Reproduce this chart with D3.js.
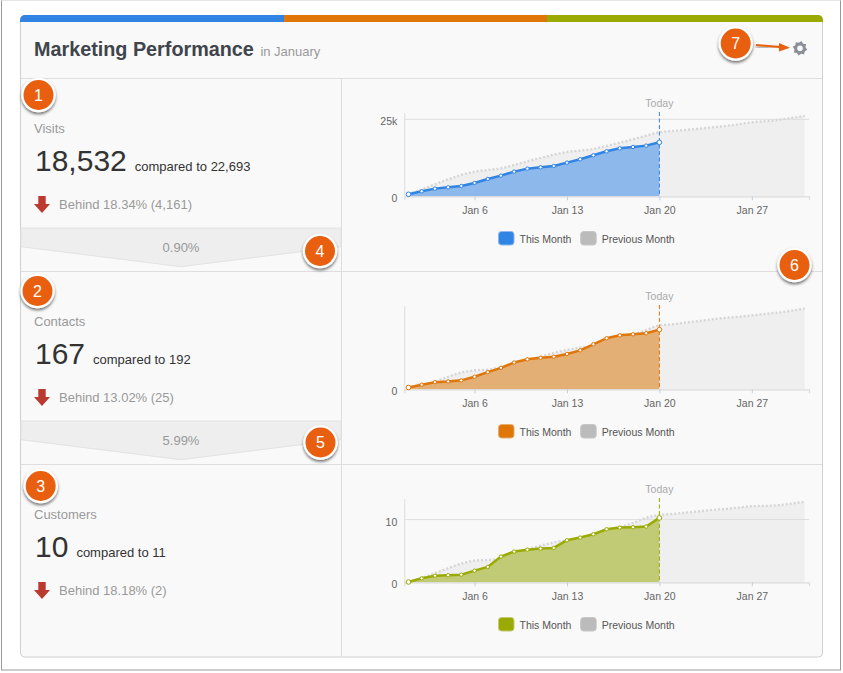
<!DOCTYPE html>
<html>
<head>
<meta charset="utf-8">
<script src="https://cdn.jsdelivr.net/npm/d3@7"></script>
<style>
    body { margin: 0; background: #fff; }
    svg { display: block; font-family: "Liberation Sans", Arial, sans-serif; }
</style>
</head>
<body>
<div id="chart"></div>
<script>
// values, one entry per day of the month
const visitsThis = [650, 1620, 2490, 2920, 3350, 4330, 5630, 6710, 8010, 8980, 9420, 9850, 10930, 12010, 13310, 14610, 15580, 16020, 16450, 17530];
const visitsPrev = [650, 2270, 3900, 5520, 6930, 8010, 8550, 9090, 10170, 11360, 12450, 13530, 14390, 14830, 15370, 16340, 17420, 18510, 19700, 20780, 21210, 21540, 21970, 22400, 22840, 23380, 24030, 24350, 24780, 25430, 26080];
const contactsThis = [5, 13, 20, 22, 25, 35, 48, 60, 75, 84, 88, 91, 99, 109, 126, 143, 151, 154, 157, 167];
const contactsPrev = [5, 12, 21, 35, 47, 53, 55, 61, 70, 81, 91, 102, 110, 117, 121, 132, 141, 152, 166, 179, 182, 187, 191, 196, 200, 203, 207, 211, 215, 220, 226];
const customersThis = [0.05, 0.64, 1.06, 1.12, 1.22, 1.86, 2.45, 4.1, 4.9, 5.2, 5.37, 5.48, 6.7, 7.13, 7.66, 8.46, 8.72, 8.78, 8.88, 10.27];
const customersPrev = [0.05, 0.69, 1.44, 2.23, 2.98, 3.46, 3.56, 3.78, 4.47, 5.21, 5.85, 6.33, 6.7, 6.81, 7.13, 8.03, 8.72, 9.47, 10.27, 10.74, 10.9, 11.12, 11.33, 11.54, 11.7, 11.91, 12.13, 12.18, 12.29, 12.55, 12.82];

const labels = ["Visits", "Contacts", "Customers"];
const totals = ["18,532", "167", "10"];
const compared = ["compared to 22,693", "compared to 192", "compared to 11"];
const behind = ["Behind 18.34% (4,161)", "Behind 13.02% (25)", "Behind 18.18% (2)"];
const funnel = ["0.90%", "5.99%"];
const dayTicks = [6, 13, 20, 27];
const today = 20;
const legendLabels = ["This Month", "Previous Month"];

const colors = ["#2f84e4", "#e07508", "#9aaa00"];
const fills = ["#8cb8ec", "#e4af75", "#c1cb75"];

const charts = [
    { current: visitsThis, previous: visitsPrev, top: 27143, ticks: [0, 25000], format: d => d ? d / 1000 + "k" : "0" },
    { current: contactsThis, previous: contactsPrev, top: 234, ticks: [0], format: d => d },
    { current: customersThis, previous: customersPrev, top: 13.33, ticks: [0, 10], format: d => d }
];

const badges = [
    { n: 1, x: 38.5, y: 95 }, { n: 2, x: 37.5, y: 291 }, { n: 3, x: 40.7, y: 486 },
    { n: 4, x: 320, y: 251 }, { n: 5, x: 320.5, y: 442.5 }, { n: 6, x: 794.5, y: 265 }, { n: 7, x: 735.7, y: 43.5 }
];

const width = 843;
const height = 673;
const rowHeight = 193;
const bg = "#f9f9f9";
const line = "#dedede";

const svg = d3.select("#chart").append("svg")
    .attr("width", width)
    .attr("height", height);

const shadow = svg.append("defs").append("filter")
    .attr("id", "shadow")
    .attr("x", "-40%").attr("y", "-40%")
    .attr("width", "180%").attr("height", "180%");
shadow.append("feDropShadow")
    .attr("dx", 0).attr("dy", 2)
    .attr("stdDeviation", 1.6)
    .attr("flood-color", "#000")
    .attr("flood-opacity", 0.55);

// screenshot frame
svg.append("rect")
    .attr("x", 1.5).attr("y", 0.5)
    .attr("width", 839).attr("height", 669.5)
    .attr("fill", "#fff")
    .attr("stroke", "#999");
svg.append("line")
    .attr("x1", 1.5).attr("x2", 840.5)
    .attr("y1", 0.5).attr("y2", 0.5)
    .attr("stroke", "#e6e6e6");

// card
svg.append("rect")
    .attr("x", 20.5).attr("y", 15.5)
    .attr("width", 802).attr("height", 641.5)
    .attr("rx", 4)
    .attr("fill", bg)
    .attr("stroke", "#d0d0d0");

const clip = svg.select("defs").append("clipPath").attr("id", "top-bar");
clip.append("rect")
    .attr("x", 20).attr("y", 15)
    .attr("width", 803).attr("height", 20)
    .attr("rx", 5);

svg.append("g")
    .attr("clip-path", "url(#top-bar)")
    .selectAll("rect")
    .data(colors)
    .join("rect")
    .attr("x", (d, i) => [20, 284, 547][i])
    .attr("y", 15)
    .attr("width", (d, i) => [264, 263, 276][i])
    .attr("height", 7)
    .attr("fill", d => d);

const title = svg.append("text")
    .attr("x", 34).attr("y", 56)
    .attr("font-size", 19.8)
    .attr("font-weight", "bold")
    .attr("fill", "#40444b")
    .text("Marketing Performance");
title.append("tspan")
    .attr("dx", 6.5)
    .attr("font-size", 13)
    .attr("font-weight", "normal")
    .attr("fill", "#999")
    .text("in January");

svg.append("line")
    .attr("x1", 21).attr("x2", 822)
    .attr("y1", 78.5).attr("y2", 78.5)
    .attr("stroke", line);

svg.append("line")
    .attr("x1", 341.5).attr("x2", 341.5)
    .attr("y1", 78).attr("y2", 657)
    .attr("stroke", line);

// one row per metric
charts.forEach((chart, i) => {
    const row = svg.append("g").attr("transform", `translate(0,${rowHeight * i})`);
    drawStats(row, i);
    drawPlot(row, chart, i);
});

function drawStats(row, i) {
    row.append("text")
        .attr("x", 34).attr("y", 133)
        .attr("font-size", 13)
        .attr("fill", "#999")
        .text(labels[i]);

    const big = row.append("text")
        .attr("x", 35).attr("y", 170.5)
        .attr("font-size", 30)
        .attr("fill", "#333")
        .text(totals[i]);
    big.append("tspan")
        .attr("dx", 8)
        .attr("font-size", 13)
        .text(compared[i]);

    row.append("path")
        .attr("d", "M38.3,196H45.7V204H50L42,213L34,204H38.3Z")
        .attr("fill", "#bb3a30");

    row.append("text")
        .attr("x", 59).attr("y", 209)
        .attr("font-size", 13)
        .attr("fill", "#999")
        .text(behind[i]);

    if (i < funnel.length) {
        row.append("path")
            .attr("d", "M21,228H341V246.7L181,266.7L21,246.7Z")
            .attr("fill", "#eee")
            .attr("stroke", "#e2e2e2");
        row.append("text")
            .attr("x", 181).attr("y", 252)
            .attr("text-anchor", "middle")
            .attr("font-size", 13)
            .attr("fill", "#999")
            .text(funnel[i]);
    }

    if (i < charts.length - 1) {
        row.append("line")
            .attr("x1", 21).attr("x2", 822)
            .attr("y1", 271.5).attr("y2", 271.5)
            .attr("stroke", line);
    }
}

function drawPlot(row, chart, i) {
    const x = d3.scaleLinear()
        .domain([0.682, 31.33])
        .range([404.3, 809]);

    const y = d3.scaleLinear()
        .domain([0, chart.top])
        .range([196.3, 112.7]);

    const prev = chart.previous.map((v, d) => ({ day: d + 1, value: v }));
    const curr = chart.current.map((v, d) => ({ day: d + 1, value: v }));

    const area = d3.area()
        .x(d => x(d.day))
        .y0(y(0))
        .y1(d => y(d.value));
    const path = d3.line()
        .x(d => x(d.day))
        .y(d => y(d.value));

    row.append("path")
        .attr("d", area.curve(d3.curveMonotoneX)(prev))
        .attr("fill", "#efefef");

    // grid lines
    row.append("g")
        .selectAll("line")
        .data(chart.ticks.filter(d => d > 0))
        .join("line")
        .attr("x1", x.range()[0]).attr("x2", x.range()[1])
        .attr("y1", d => y(d)).attr("y2", d => y(d))
        .attr("stroke", "#dedede");

    row.append("path")
        .attr("d", path.curve(d3.curveMonotoneX)(prev))
        .attr("fill", "none")
        .attr("stroke", "#d6d6d6")
        .attr("stroke-width", 2.4)
        .attr("stroke-dasharray", "2,2");

    row.append("path")
        .attr("d", area.curve(d3.curveLinear)(curr))
        .attr("fill", fills[i]);

    // axes
    const xAxis = row.append("g")
        .attr("transform", `translate(0,${y(0)})`)
        .call(d3.axisBottom(x).tickValues(dayTicks).tickFormat(d => `Jan ${d}`).tickSizeOuter(0).tickSize(4));
    xAxis.select(".domain").attr("stroke", "#dcdcdc").attr("stroke-width", 1.2);
    xAxis.selectAll(".tick line").attr("stroke", "#c0d0e0");
    xAxis.selectAll("text")
        .attr("y", 17.7).attr("dy", 0)
        .attr("font-family", "Liberation Sans")
        .attr("font-size", 10.5)
        .attr("fill", "#666");

    const yAxis = row.append("g")
        .attr("transform", `translate(${x.range()[0]},0)`)
        .call(d3.axisLeft(y).tickValues(chart.ticks).tickFormat(chart.format).tickSize(0).tickSizeOuter(0));
    yAxis.select(".domain").attr("stroke", "#dcdcdc");
    yAxis.selectAll("text")
        .attr("x", -7).attr("dy", "0.52em")
        .attr("font-family", "Liberation Sans")
        .attr("font-size", 10.5)
        .attr("fill", "#666");

    // today marker
    row.append("line")
        .attr("x1", x(today)).attr("x2", x(today))
        .attr("y1", 112).attr("y2", y(0))
        .attr("stroke", colors[i])
        .attr("stroke-dasharray", "4,2.5");
    row.append("text")
        .attr("x", x(today)).attr("y", 107.3)
        .attr("text-anchor", "middle")
        .attr("font-size", 10.5)
        .attr("fill", "#aaa")
        .text("Today");

    row.append("path")
        .attr("d", path.curve(d3.curveLinear)(curr))
        .attr("fill", "none")
        .attr("stroke", colors[i])
        .attr("stroke-width", 2.5);

    row.append("g")
        .selectAll("circle")
        .data(curr)
        .join("circle")
        .attr("cx", d => x(d.day))
        .attr("cy", d => y(d.value))
        .attr("r", (d, k) => k === 0 || k === curr.length - 1 ? 2.3 : 1.7)
        .attr("fill", "#fff")
        .attr("stroke", colors[i])
        .attr("stroke-width", 1);

    // legend
    const legend = row.append("g").attr("transform", "translate(498,231)");
    legendLabels.forEach((label, k) => {
        const g = legend.append("g").attr("transform", `translate(${k * 82.2},0)`);
        g.append("rect")
            .attr("x", 0.5).attr("y", 0.5)
            .attr("width", 15.5).attr("height", 13.5)
            .attr("rx", 3)
            .attr("fill", k ? "#bbb" : colors[i])
            .attr("stroke", k ? "#c6c6c6" : fills[i]);
        g.append("text")
            .attr("x", 21.5).attr("y", 12.3)
            .attr("font-size", 10.5)
            .attr("fill", "#555")
            .text(label);
    });
}

// settings gear
const teeth = d3.range(16).map(k => [k * Math.PI / 8 + Math.PI / 16, k % 2 ? 5.6 : 7.4]);
svg.append("path")
    .attr("transform", "translate(800,48.3)")
    .attr("d", d3.lineRadial().curve(d3.curveLinearClosed)(teeth))
    .attr("fill", "#8b9098");
svg.append("circle")
    .attr("cx", 800).attr("cy", 48.3)
    .attr("r", 2.8)
    .attr("fill", bg);

// callout arrow to the gear
svg.append("path")
    .attr("d", "M756,45L780,47")
    .attr("stroke", "#e8600f")
    .attr("stroke-width", 2)
    .attr("fill", "none")
    .attr("filter", "url(#shadow)");
svg.append("path")
    .attr("d", "M790,47.8L779,43L779,51.5Z")
    .attr("fill", "#e8600f");

// numbered callouts
const badge = svg.append("g")
    .selectAll("g")
    .data(badges)
    .join("g")
    .attr("transform", d => `translate(${d.x},${d.y})`);
badge.append("circle")
    .attr("r", 17.2)
    .attr("fill", "#fff")
    .attr("filter", "url(#shadow)");
badge.append("circle")
    .attr("r", 15)
    .attr("fill", "#e8600f");
badge.append("text")
    .attr("y", 5.6)
    .attr("text-anchor", "middle")
    .attr("font-size", 16)
    .attr("fill", "#fff")
    .text(d => d.n);
</script>
</body>
</html>
